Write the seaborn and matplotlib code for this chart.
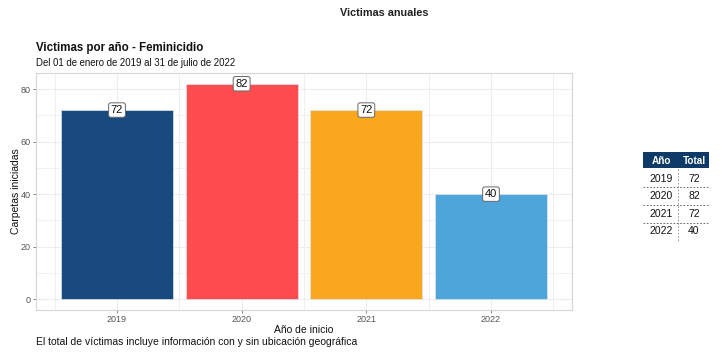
import matplotlib

matplotlib.use("Agg")

import matplotlib.pyplot as plt
import numpy as np
import pandas as pd
import seaborn as sns
from matplotlib.patches import Rectangle

YEARS = ["2019", "2020", "2021", "2022"]
TOTALS = [72, 82, 72, 40]
BAR_COLORS = ["#184A7E", "#FF4C4F", "#F9A81E", "#4EA5DA"]

SUPTITLE = "Victimas anuales"
TITLE = "Victimas por año - Feminicidio"
SUBTITLE = "Del 01 de enero de 2019 al 31 de julio de 2022"
XLABEL = "Año de inicio"
YLABEL = "Carpetas iniciadas"
CAPTION = "El total de víctimas incluye información con y sin ubicación geográfica"
TABLE_HEADER = ["Año", "Total"]

W, H = 722, 359


def fx(px):
    return px / W


def fy(py):
    return 1 - py / H


def main() -> None:
    sns.set_theme(style="white")
    plt.rcParams["font.family"] = ["Liberation Sans", "DejaVu Sans"]

    df = pd.DataFrame({"year": YEARS, "total": TOTALS})

    fig = plt.figure(figsize=(W / 100, H / 100), dpi=100)
    ax = fig.add_axes([fx(36), fy(310), fx(572) - fx(36), fy(73) - fy(310)])

    # grid like ggplot theme_light (major + minor)
    for v in np.arange(-0.5, 3.6, 0.5):
        ax.axvline(v, color="#EDEDED", lw=0.6 if v % 1 else 0.8, zorder=0)
    for v in range(0, 90, 10):
        ax.axhline(v, color="#EDEDED", lw=0.8 if v % 20 == 0 else 0.5, zorder=0)

    sns.barplot(
        data=df,
        x="year",
        y="total",
        hue="year",
        palette=BAR_COLORS,
        saturation=1,
        width=0.9,
        edgecolor="#DDE6F0",
        linewidth=0.5,
        legend=False,
        ax=ax,
        zorder=2,
    )

    for i, v in enumerate(TOTALS):
        ax.text(
            i, v, str(v), ha="center", va="center", fontsize=8, color="#111111",
            zorder=4,
            bbox=dict(boxstyle="round,pad=0.2", fc="white", ec="#666666", lw=0.7),
        )

    ax.set_xlim(-0.65, 3.65)
    ax.set_ylim(-4.1, 86.1)
    ax.set_yticks([0, 20, 40, 60, 80])
    ax.tick_params(axis="both", labelsize=6.5, colors="#555555", length=2,
                   width=0.5, pad=2, left=True, bottom=True)
    ax.tick_params(axis="x", pad=1.5)
    for s in ax.spines.values():
        s.set_color("#D5D5D5")
        s.set_linewidth(0.8)
    ax.set_xlabel(XLABEL, fontsize=7.5, color="#111111", labelpad=1)
    ax.set_ylabel("")
    fig.text(fx(16), 0.5 * (fy(310) + fy(73)), YLABEL, rotation=90,
             ha="center", va="center", fontsize=7.5, color="#111111")

    fig.text(fx(384), fy(13), SUPTITLE, ha="center", va="center",
             fontsize=7.8, fontweight="bold", color="#222222")
    fig.text(fx(36), fy(48), TITLE, ha="left", va="center",
             fontsize=8.3, fontweight="bold", color="#111111")
    fig.text(fx(36), fy(63), SUBTITLE, ha="left", va="center",
             fontsize=6.9, color="#111111")
    fig.text(fx(36), fy(342), CAPTION, ha="left", va="center",
             fontsize=7.5, color="#111111")

    # summary table on the right
    tab = fig.add_axes([fx(640), fy(244), fx(716) - fx(640), fy(148) - fy(244)])
    tab.set_xlim(640, 716)
    tab.set_ylim(244, 148)
    tab.axis("off")
    tab.add_patch(Rectangle((643, 152), 66, 16, fc="#0D3A66", ec="none"))
    tab.text(661, 160.5, TABLE_HEADER[0], ha="center", va="center",
             fontsize=7.2, fontweight="bold", color="white")
    tab.text(694, 160.5, TABLE_HEADER[1], ha="center", va="center",
             fontsize=7.2, fontweight="bold", color="white")
    row_h = 17.6
    for i, (y, t) in enumerate(zip(YEARS, TOTALS)):
        cy = 178.5 + i * row_h
        tab.text(661, cy, y, ha="center", va="center", fontsize=7.5, color="#111111")
        tab.text(694, cy, str(t), ha="center", va="center", fontsize=7.5, color="#111111")
        if i < len(YEARS) - 1:
            tab.plot([643, 709], [cy + row_h / 2, cy + row_h / 2], ls=(0, (2, 2)),
                     color="#555555", lw=0.6)
    tab.plot([678, 678], [169, 242], ls=(0, (2, 2)), color="#888888", lw=0.6)

    fig.savefig("out.png", dpi=100)
    plt.close(fig)


if __name__ == "__main__":
    main()
